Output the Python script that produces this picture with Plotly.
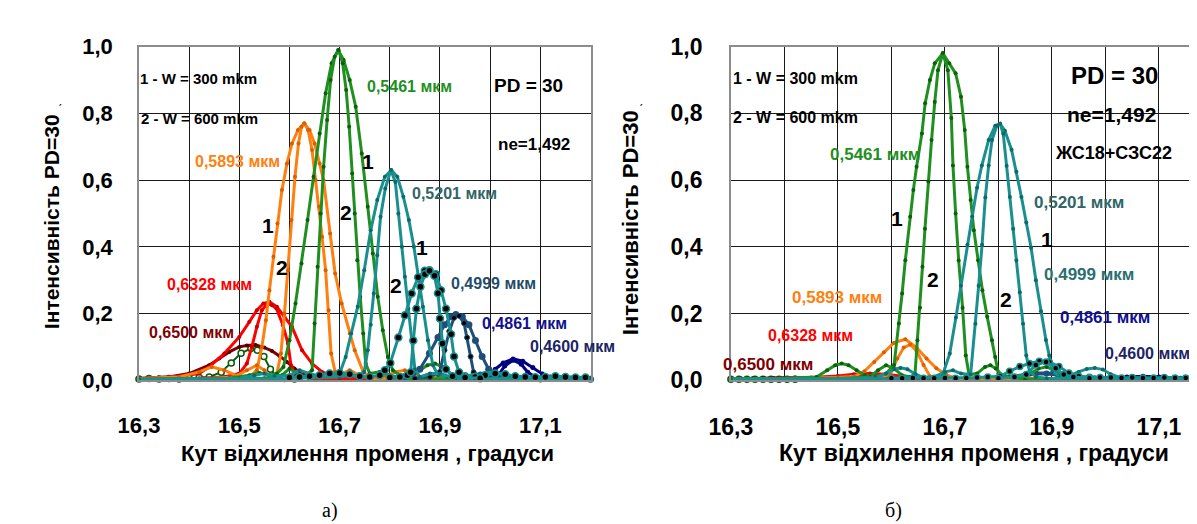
import plotly.graph_objects as go

W, H = 1197, 524

# ---------------- axis ticks ----------------
X_TICKVALS = [16.3, 16.4, 16.5, 16.6, 16.7, 16.8, 16.9, 17.0, 17.1, 17.2]
X_TICKTEXT = ["16,3", "", "16,5", "", "16,7", "", "16,9", "", "17,1", ""]
Y_TICKVALS = [0.0, 0.2, 0.4, 0.6, 0.8, 1.0]
Y_TICKTEXT = ["0,0", "0,2", "0,4", "0,6", "0,8", "1,0"]

# ================= panel a) =================
# 0,5461 um (green)
A_G1_X = [16.30, 16.40, 16.48, 16.52, 16.54, 16.56, 16.575, 16.588, 16.600, 16.612, 16.624, 16.636, 16.648, 16.660, 16.672, 16.684, 16.697, 16.708, 16.720, 16.732, 16.744, 16.756, 16.766, 16.776, 16.786, 16.796, 16.806, 16.820, 16.850, 16.875, 16.890, 16.905, 16.930, 17.00, 17.10, 17.20]
A_G1_Y = [0.003, 0.004, 0.006, 0.015, 0.022, 0.015, 0.02, 0.04, 0.12, 0.23, 0.35, 0.48, 0.61, 0.74, 0.86, 0.95, 0.99, 0.96, 0.90, 0.82, 0.68, 0.52, 0.38, 0.25, 0.15, 0.07, 0.03, 0.015, 0.02, 0.045, 0.05, 0.04, 0.01, 0.005, 0.004, 0.003]
A_G2_X = [16.30, 16.45, 16.55, 16.585, 16.600, 16.615, 16.630, 16.645, 16.650, 16.656, 16.662, 16.668, 16.675, 16.682, 16.690, 16.698, 16.706, 16.713, 16.719, 16.725, 16.730, 16.735, 16.741, 16.747, 16.752, 16.760, 16.780, 16.800, 16.830, 17.20]
A_G2_Y = [0.003, 0.004, 0.006, 0.015, 0.035, 0.02, 0.01, 0.03, 0.17, 0.34, 0.50, 0.64, 0.78, 0.90, 0.97, 0.99, 0.95, 0.87, 0.76, 0.62, 0.50, 0.36, 0.25, 0.14, 0.05, 0.02, 0.025, 0.015, 0.005, 0.003]
# 0,5893 um (orange)
A_O1_X = [16.30, 16.38, 16.42, 16.445, 16.47, 16.50, 16.520, 16.535, 16.545, 16.553, 16.560, 16.568, 16.576, 16.585, 16.595, 16.605, 16.617, 16.629, 16.640, 16.650, 16.660, 16.668, 16.681, 16.691, 16.704, 16.720, 16.730, 16.747, 16.760, 16.790, 16.810, 16.830, 16.860, 17.00, 17.20]
A_O1_Y = [0.005, 0.01, 0.025, 0.04, 0.03, 0.01, 0.01, 0.03, 0.10, 0.18, 0.27, 0.37, 0.47, 0.57, 0.65, 0.71, 0.75, 0.77, 0.75, 0.71, 0.65, 0.60, 0.44, 0.32, 0.23, 0.14, 0.09, 0.025, 0.01, 0.01, 0.025, 0.03, 0.01, 0.005, 0.003]
A_O2_X = [16.30, 16.45, 16.49, 16.515, 16.535, 16.55, 16.56, 16.575, 16.583, 16.590, 16.597, 16.604, 16.611, 16.618, 16.624, 16.630, 16.637, 16.645, 16.652, 16.659, 16.665, 16.672, 16.678, 16.683, 16.691, 16.705, 16.720, 16.740, 16.760, 17.20]
A_O2_Y = [0.004, 0.006, 0.01, 0.03, 0.045, 0.03, 0.01, 0.02, 0.08, 0.20, 0.33, 0.48, 0.61, 0.71, 0.76, 0.77, 0.75, 0.69, 0.60, 0.52, 0.43, 0.33, 0.21, 0.08, 0.025, 0.02, 0.03, 0.015, 0.005, 0.003]
# 0,6328 um (red)
A_R1_X = [16.30, 16.34, 16.38, 16.42, 16.44, 16.47, 16.50, 16.520, 16.535, 16.548, 16.560, 16.575, 16.590, 16.605, 16.625, 16.645, 16.665, 16.690, 16.720, 16.760, 16.800, 17.20]
A_R1_Y = [0.005, 0.008, 0.012, 0.02, 0.04, 0.08, 0.13, 0.175, 0.21, 0.23, 0.235, 0.22, 0.19, 0.16, 0.09, 0.05, 0.025, 0.01, 0.006, 0.004, 0.003, 0.003]
A_R2_X = [16.30, 16.42, 16.47, 16.50, 16.515, 16.525, 16.535, 16.545, 16.556, 16.565, 16.574, 16.587, 16.597, 16.603, 16.612, 16.640, 16.700, 17.20]
A_R2_Y = [0.004, 0.006, 0.01, 0.02, 0.05, 0.10, 0.16, 0.21, 0.23, 0.225, 0.215, 0.165, 0.11, 0.045, 0.015, 0.006, 0.004, 0.003]
# 0,6500 um (maroon and open circles)
A_M1_X = [16.30, 16.33, 16.36, 16.40, 16.44, 16.46, 16.48, 16.50, 16.515, 16.532, 16.550, 16.565, 16.580, 16.595, 16.610, 16.630, 16.650, 16.700, 17.20]
A_M1_Y = [0.005, 0.007, 0.01, 0.02, 0.045, 0.065, 0.085, 0.10, 0.104, 0.106, 0.098, 0.088, 0.073, 0.055, 0.035, 0.015, 0.005, 0.004, 0.003]
A_M2_X = [16.30, 16.32, 16.34, 16.36, 16.38, 16.40, 16.42, 16.44, 16.464, 16.484, 16.5035, 16.523, 16.536, 16.549, 16.562, 16.575, 16.59, 16.61]
A_M2_Y = [0.004, 0.005, 0.004, 0.005, 0.004, 0.006, 0.008, 0.01, 0.024, 0.052, 0.081, 0.095, 0.09, 0.071, 0.033, 0.01, 0.005, 0.004]
# 0,5201 um (teal)
A_T1_X = [16.30, 16.50, 16.53, 16.55, 16.57, 16.60, 16.62, 16.64, 16.665, 16.680, 16.700, 16.712, 16.723, 16.736, 16.749, 16.762, 16.775, 16.790, 16.803, 16.815, 16.827, 16.838, 16.848, 16.858, 16.866, 16.876, 16.886, 16.896, 16.915, 16.94, 16.98, 17.01, 17.04, 17.20]
A_T1_Y = [0.003, 0.005, 0.015, 0.02, 0.012, 0.015, 0.03, 0.02, 0.01, 0.01, 0.02, 0.07, 0.14, 0.22, 0.33, 0.45, 0.54, 0.61, 0.63, 0.61, 0.55, 0.48, 0.40, 0.30, 0.22, 0.12, 0.045, 0.015, 0.01, 0.01, 0.02, 0.025, 0.01, 0.004]
A_T2_X = [16.30, 16.60, 16.70, 16.720, 16.740, 16.749, 16.756, 16.762, 16.768, 16.775, 16.7815, 16.791, 16.802, 16.811, 16.817, 16.824, 16.830, 16.837, 16.8435, 16.850, 16.860, 16.880, 16.900, 16.930, 17.20]
A_T2_Y = [0.003, 0.005, 0.01, 0.015, 0.01, 0.025, 0.09, 0.166, 0.26, 0.375, 0.49, 0.575, 0.63, 0.594, 0.50, 0.40, 0.31, 0.214, 0.119, 0.033, 0.01, 0.02, 0.02, 0.006, 0.003]
# 0,4999 um (teal with black dots)
A_B1_X = [16.60, 16.62, 16.64, 16.66, 16.68, 16.70, 16.72, 16.74, 16.76, 16.78, 16.79, 16.801, 16.817, 16.830, 16.8435, 16.8565, 16.8696, 16.879, 16.892, 16.902, 16.912, 16.922, 16.928, 16.938, 16.95, 16.97, 16.99, 17.01, 17.03, 17.05, 17.07, 17.09, 17.11, 17.13, 17.15, 17.17, 17.19]
A_B1_Y = [0.008, 0.01, 0.012, 0.015, 0.02, 0.022, 0.018, 0.012, 0.01, 0.015, 0.03, 0.052, 0.128, 0.195, 0.26, 0.309, 0.328, 0.33, 0.318, 0.27, 0.214, 0.138, 0.071, 0.024, 0.012, 0.01, 0.015, 0.02, 0.018, 0.012, 0.01, 0.009, 0.01, 0.012, 0.01, 0.008, 0.008]
A_B2_X = [16.80, 16.82, 16.835, 16.8416, 16.8468, 16.853, 16.861, 16.870, 16.879, 16.889, 16.896, 16.900, 16.905, 16.912, 16.925, 16.95, 16.98]
A_B2_Y = [0.008, 0.01, 0.015, 0.024, 0.119, 0.214, 0.28, 0.318, 0.328, 0.313, 0.261, 0.185, 0.11, 0.033, 0.012, 0.008, 0.006]
# 0,4861 um (dark blue)
A_N1_X = [16.80, 16.83, 16.845, 16.8598, 16.879, 16.896, 16.909, 16.922, 16.9316, 16.9446, 16.9577, 16.9707, 16.984, 16.997, 17.01, 17.03, 17.06, 17.10, 17.20]
A_N1_Y = [0.005, 0.01, 0.02, 0.033, 0.081, 0.128, 0.166, 0.19, 0.197, 0.19, 0.166, 0.119, 0.071, 0.033, 0.015, 0.01, 0.006, 0.004, 0.003]
A_N2_X = [16.85, 16.88, 16.899, 16.909, 16.9185, 16.928, 16.938, 16.948, 16.954, 16.961, 16.967, 16.98, 17.00]
A_N2_Y = [0.005, 0.01, 0.024, 0.09, 0.147, 0.187, 0.193, 0.171, 0.128, 0.071, 0.024, 0.01, 0.005]
# 0,4600 um (navy)
A_P1_X = [16.95, 16.98, 16.997, 17.01, 17.026, 17.0457, 17.065, 17.085, 17.104, 17.12, 17.14, 17.17, 17.20]
A_P1_Y = [0.004, 0.008, 0.014, 0.033, 0.052, 0.064, 0.057, 0.038, 0.019, 0.01, 0.006, 0.004, 0.003]
A_P2_X = [16.99, 17.016, 17.029, 17.0457, 17.062, 17.075, 17.09, 17.11]
A_P2_Y = [0.005, 0.014, 0.043, 0.06, 0.048, 0.024, 0.01, 0.005]

# ================= panel b) =================
B_G1_X = [16.30, 16.40, 16.46, 16.48, 16.495, 16.507, 16.52, 16.535, 16.55, 16.57, 16.59, 16.605, 16.614, 16.620, 16.626, 16.635, 16.641, 16.647, 16.657, 16.663, 16.672, 16.681, 16.696, 16.708, 16.720, 16.730, 16.737, 16.742, 16.748, 16.754, 16.762, 16.770, 16.779, 16.788, 16.794, 16.800, 16.82, 16.86, 16.875, 16.89, 16.905, 16.93, 17.00, 17.20]
B_G1_Y = [0.004, 0.006, 0.01, 0.03, 0.045, 0.05, 0.045, 0.03, 0.015, 0.01, 0.02, 0.046, 0.17, 0.26, 0.36, 0.49, 0.57, 0.64, 0.74, 0.83, 0.90, 0.95, 0.98, 0.95, 0.92, 0.85, 0.75, 0.64, 0.54, 0.45, 0.36, 0.27, 0.19, 0.12, 0.07, 0.02, 0.01, 0.02, 0.035, 0.04, 0.03, 0.01, 0.005, 0.003]
B_G2_X = [16.30, 16.50, 16.56, 16.575, 16.59, 16.605, 16.62, 16.635, 16.644, 16.6486, 16.6535, 16.658, 16.6627, 16.669, 16.675, 16.681, 16.687, 16.696, 16.7055, 16.712, 16.715, 16.720, 16.7257, 16.733, 16.739, 16.745, 16.76, 16.775, 16.785, 16.795, 16.81, 16.85, 17.20]
B_G2_Y = [0.003, 0.005, 0.01, 0.03, 0.045, 0.035, 0.015, 0.01, 0.017, 0.12, 0.217, 0.34, 0.454, 0.596, 0.72, 0.834, 0.929, 0.981, 0.929, 0.786, 0.644, 0.50, 0.359, 0.217, 0.074, 0.017, 0.02, 0.04, 0.045, 0.035, 0.01, 0.004, 0.003]
B_O1_X = [16.30, 16.40, 16.47, 16.50, 16.519, 16.531, 16.5495, 16.568, 16.586, 16.6046, 16.626, 16.647, 16.6657, 16.684, 16.702, 16.720, 16.740, 16.800, 17.20]
B_O1_Y = [0.003, 0.004, 0.006, 0.008, 0.01, 0.012, 0.027, 0.055, 0.084, 0.112, 0.123, 0.098, 0.065, 0.036, 0.017, 0.006, 0.004, 0.003, 0.003]
B_O2_X = [16.30, 16.45, 16.55, 16.58, 16.598, 16.611, 16.623, 16.635, 16.647, 16.660, 16.672, 16.690, 16.750, 17.20]
B_O2_Y = [0.003, 0.005, 0.008, 0.01, 0.017, 0.065, 0.098, 0.107, 0.088, 0.046, 0.012, 0.006, 0.004, 0.003]
B_R1_X = [16.30, 16.35, 16.40, 16.45, 16.50, 16.53, 16.56, 16.59, 16.62, 16.65, 16.70, 17.20]
B_R1_Y = [0.003, 0.004, 0.005, 0.008, 0.013, 0.018, 0.02, 0.018, 0.012, 0.006, 0.004, 0.003]
B_R2_X = [16.30, 16.45, 16.50, 16.53, 16.56, 16.59, 16.62, 16.70, 17.20]
B_R2_Y = [0.003, 0.004, 0.008, 0.012, 0.015, 0.012, 0.006, 0.004, 0.003]
B_M1_X = [16.30, 16.32, 16.34, 16.36, 16.38, 16.40, 16.42, 16.44, 16.46, 16.50, 16.55, 16.60, 17.20]
B_M1_Y = [0.004, 0.005, 0.006, 0.006, 0.007, 0.007, 0.008, 0.007, 0.007, 0.006, 0.005, 0.004, 0.003]
B_M2_X = [16.30, 16.315, 16.33, 16.345, 16.36, 16.375, 16.39, 16.405, 16.42]
B_M2_Y = [0.003, 0.003, 0.003, 0.003, 0.003, 0.003, 0.003, 0.003, 0.003]
B_T1_X = [16.30, 16.50, 16.57, 16.59, 16.605, 16.617, 16.63, 16.645, 16.66, 16.68, 16.696, 16.709, 16.7205, 16.7297, 16.742, 16.751, 16.760, 16.769, 16.7817, 16.794, 16.803, 16.812, 16.8245, 16.8336, 16.843, 16.852, 16.861, 16.870, 16.8795, 16.8887, 16.895, 16.901, 16.915, 16.93, 16.95, 16.965, 16.98, 16.995, 17.01, 17.03, 17.20]
B_T1_Y = [0.003, 0.004, 0.008, 0.02, 0.033, 0.037, 0.033, 0.018, 0.008, 0.01, 0.017, 0.08, 0.188, 0.283, 0.406, 0.491, 0.577, 0.644, 0.72, 0.763, 0.769, 0.748, 0.691, 0.625, 0.549, 0.473, 0.397, 0.30, 0.207, 0.121, 0.074, 0.027, 0.01, 0.012, 0.025, 0.034, 0.037, 0.032, 0.018, 0.006, 0.003]
B_T2_X = [16.30, 16.60, 16.68, 16.70, 16.715, 16.73, 16.748, 16.757, 16.763, 16.7694, 16.7755, 16.7817, 16.788, 16.797, 16.803, 16.809, 16.8153, 16.8214, 16.8275, 16.8336, 16.840, 16.846, 16.852, 16.858, 16.87, 16.89, 17.20]
B_T2_Y = [0.003, 0.005, 0.01, 0.025, 0.03, 0.02, 0.017, 0.169, 0.283, 0.406, 0.548, 0.644, 0.72, 0.763, 0.769, 0.739, 0.643, 0.549, 0.454, 0.359, 0.264, 0.169, 0.074, 0.027, 0.01, 0.006, 0.003]
B_B1_X = [16.60, 16.62, 16.64, 16.66, 16.68, 16.70, 16.72, 16.74, 16.76, 16.78, 16.803, 16.821, 16.840, 16.858, 16.8765, 16.895, 16.913, 16.9315, 16.95, 16.97, 16.99, 17.01, 17.03, 17.05, 17.07, 17.09, 17.11, 17.13, 17.15, 17.17, 17.19]
B_B1_Y = [0.006, 0.006, 0.007, 0.006, 0.006, 0.007, 0.006, 0.007, 0.008, 0.01, 0.012, 0.027, 0.041, 0.05, 0.057, 0.055, 0.041, 0.022, 0.012, 0.009, 0.008, 0.008, 0.007, 0.008, 0.007, 0.007, 0.008, 0.007, 0.007, 0.006, 0.006]
B_B2_X = [16.80, 16.83, 16.852, 16.870, 16.889, 16.907, 16.922, 16.94, 16.97]
B_B2_Y = [0.006, 0.01, 0.017, 0.046, 0.055, 0.036, 0.017, 0.01, 0.006]
B_N1_X = [16.80, 16.83, 16.85, 16.87, 16.89, 16.91, 16.93, 16.95, 16.98, 17.02, 17.20]
B_N1_Y = [0.004, 0.008, 0.015, 0.02, 0.02, 0.018, 0.014, 0.01, 0.006, 0.004, 0.003]
B_P1_X = [16.95, 17.00, 17.04, 17.07, 17.10, 17.14, 17.19]
B_P1_Y = [0.003, 0.006, 0.01, 0.012, 0.01, 0.006, 0.004]

# ---------------- styles ----------------
GREEN, GREEN_M = "#1f8f1f", "#0d5f0d"
ORANGE, ORANGE_M = "#ff7f0f", "#d86000"
RED, RED_M = "#ff0000", "#c80000"
MAROON, MAROON_M = "#800000", "#560000"
DKGREEN = "#0a5a0a"
TEAL, TEAL_M = "#1a8f8f", "#0d6a6a"
DBLUE = "#1f4e79"
NAVY = "#000080"

fig = go.Figure()


def curve(x, y, panel, color, mcolor=None, width=3, msize=4, mline=None, mlw=0):
    xa, ya = ("x", "y") if panel == "a" else ("x2", "y2")
    fig.add_trace(go.Scatter(
        x=x, y=y, xaxis=xa, yaxis=ya, mode="lines+markers",
        line=dict(color=color, width=width),
        marker=dict(size=msize, color=mcolor or color,
                    line=dict(color=mline or color, width=mlw)),
        cliponaxis=False, showlegend=False, hoverinfo="skip"))


# panel a)
curve(A_M2_X, A_M2_Y, "a", DKGREEN, "white", 2, 6, DKGREEN, 1.5)
curve(A_M1_X, A_M1_Y, "a", MAROON, MAROON_M)
curve(A_R1_X, A_R1_Y, "a", RED, RED_M)
curve(A_R2_X, A_R2_Y, "a", RED, RED_M)
curve(A_O1_X, A_O1_Y, "a", ORANGE, ORANGE_M)
curve(A_O2_X, A_O2_Y, "a", ORANGE, ORANGE_M)
curve(A_G1_X, A_G1_Y, "a", GREEN, GREEN_M)
curve(A_G2_X, A_G2_Y, "a", GREEN, GREEN_M)
curve(A_P1_X, A_P1_Y, "a", NAVY, NAVY, 3, 5)
curve(A_P2_X, A_P2_Y, "a", NAVY, NAVY, 3, 5)
curve(A_N1_X, A_N1_Y, "a", DBLUE, DBLUE, 3, 7)
curve(A_N2_X, A_N2_Y, "a", DBLUE, "black", 3, 5, DBLUE, 1)
curve(A_T1_X, A_T1_Y, "a", TEAL, TEAL_M)
curve(A_T2_X, A_T2_Y, "a", TEAL, TEAL_M)
curve(A_B1_X, A_B1_Y, "a", TEAL, "black", 3, 7, TEAL, 1.5)
curve(A_B2_X, A_B2_Y, "a", TEAL, "black", 3, 7, TEAL, 1.5)
# panel b)
curve(B_M2_X, B_M2_Y, "b", DKGREEN, "white", 2, 6, DKGREEN, 1.5)
curve(B_M1_X, B_M1_Y, "b", MAROON, MAROON_M)
curve(B_R1_X, B_R1_Y, "b", RED, RED_M)
curve(B_R2_X, B_R2_Y, "b", RED, RED_M)
curve(B_P1_X, B_P1_Y, "b", NAVY, NAVY, 3, 5)
curve(B_N1_X, B_N1_Y, "b", DBLUE, DBLUE, 4, 6)
curve(B_O1_X, B_O1_Y, "b", ORANGE, ORANGE_M)
curve(B_O2_X, B_O2_Y, "b", ORANGE, ORANGE_M)
curve(B_G1_X, B_G1_Y, "b", GREEN, GREEN_M)
curve(B_G2_X, B_G2_Y, "b", GREEN, GREEN_M)
curve(B_T1_X, B_T1_Y, "b", TEAL, TEAL_M)
curve(B_T2_X, B_T2_Y, "b", TEAL, TEAL_M)
curve(B_B1_X, B_B1_Y, "b", TEAL, "black", 3, 6, TEAL, 1.5)
curve(B_B2_X, B_B2_Y, "b", TEAL, "black", 3, 6, TEAL, 1.5)

SANS = "Liberation Sans, Arial, sans-serif"
SERIF = "Liberation Serif, Times New Roman, serif"

GRID = "#1a1a1a"
FRAME = "#8c8c8c"


def xaxis(domain, rng, size):
    return dict(domain=domain, range=rng, tickmode="array", tickvals=X_TICKVALS,
                ticktext=X_TICKTEXT, showgrid=True, gridcolor=GRID, gridwidth=1,
                zeroline=False, showline=True, mirror=True, linecolor=FRAME,
                linewidth=1.5, ticks="outside", ticklen=25,
                tickcolor="rgba(0,0,0,0)",
                tickfont=dict(family=SANS, size=size, color="black", weight="bold"))


def yaxis(domain, size, mirror, anchor, ticklen):
    return dict(domain=domain, range=[0, 1.0], tickmode="array", tickvals=Y_TICKVALS,
                ticktext=Y_TICKTEXT, showgrid=True, gridcolor=GRID, gridwidth=1,
                zeroline=False, showline=True, mirror=mirror, linecolor=FRAME,
                linewidth=1.5, ticks="outside", ticklen=ticklen, anchor=anchor,
                tickcolor="rgba(0,0,0,0)",
                tickfont=dict(family=SANS, size=size, color="black", weight="bold"))


YDOM = [(H - 378) / H, (H - 27) / H]
xa = xaxis([111 / W, 571 / W], [16.3, 17.2], 22)
xa["anchor"] = "y"
xb = xaxis([714 / W, 1.0], [16.3, 17.186], 23)
xb["anchor"] = "y2"
ya = yaxis(YDOM, 22, True, "x", 20)
yb = yaxis(YDOM, 23, False, "x2", 22)

annotations = []


def ann(text, px, py, size, color="black", family=SANS, angle=0, bold=True):
    annotations.append(dict(
        text=text, x=px / W, y=1 - py / H, xref="paper", yref="paper",
        xanchor="center", yanchor="middle", showarrow=False, textangle=angle,
        font=dict(family=family, size=size, color=color,
                  weight="bold" if bold else "normal")))


# ---- panel a) texts
ann("1 - W = 300 mkm", 172, 61, 15)
ann("2 - W = 600 mkm", 173, 103, 15)
ann("0,5461 мкм", 387, 69, 16, GREEN)
ann("PD = 30", 508, 68, 19)
ann("ne=1,492", 513, 130, 17)
ann("0,5893 мкм", 211, 148, 16, ORANGE)
ann("1", 242, 215, 21)
ann("2", 257, 259, 21)
ann("1", 344, 148, 21)
ann("2", 322, 202, 21)
ann("0,5201 мкм", 432, 181, 16, "#2f6666")
ann("1", 399, 238, 21)
ann("2", 373, 278, 21)
ann("0,4999 мкм", 472, 276, 16, "#1f4d6b")
ann("0,4861 мкм", 504, 318, 16, "#101090")
ann("0,4600 мкм", 553, 342, 16, "#1a2466")
ann("0,6328 мкм", 183, 277, 16, RED)
ann("0,6500 мкм", 165, 328, 16, MAROON)
ann("Інтенсивність PD=30", 22, 211, 21, angle=-90)
ann("ˏ", 31, 82, 12, bold=False)
ann("Кут відхилення променя , градуси", 344, 455, 22)
ann("а)", 306, 515, 20, family=SERIF, bold=False)

# ---- panel b) texts
ann("1 - W = 300 mkm", 780, 61, 16)
ann("2 - W = 600 mkm", 780, 102, 16)
ann("0,5461 мкм", 861, 140, 17, GREEN)
ann("1", 883, 208, 21)
ann("2", 920, 272, 21)
ann("0,5893 мкм", 822, 291, 17, ORANGE)
ann("0,6328 мкм", 795, 331, 16, RED)
ann("0,6500 мкм", 752, 361, 17, MAROON)
ann("PD = 30", 1105, 57, 24)
ann("ne=1,492", 1102, 98, 21)
ann("ЖС18+СЗС22", 1104, 139, 18)
ann("0,5201 мкм", 1069, 191, 17, "#2f6666")
ann("1", 1036, 230, 21)
ann("2", 994, 293, 21)
ann("0,4999 мкм", 1079, 267, 17, "#2a7070")
ann("0,4861 мкм", 1095, 312, 17, "#101090")
ann("0,4600 мкм", 1138, 350, 16, "#1a2466")
ann("Інтенсивність PD=30", 612, 212, 22, angle=-90)
ann("ˏ", 622, 82, 12, bold=False)
ann("Кут відхилення променя , градуси", 962, 455, 23)
ann("б)", 880, 515, 20, family=SERIF, bold=False)

fig.update_layout(
    width=W, height=H, margin=dict(l=0, r=0, t=0, b=0),
    paper_bgcolor="white", plot_bgcolor="white", showlegend=False,
    xaxis=xa, yaxis=ya, xaxis2=xb, yaxis2=yb, annotations=annotations)

fig.write_html("out.html")
